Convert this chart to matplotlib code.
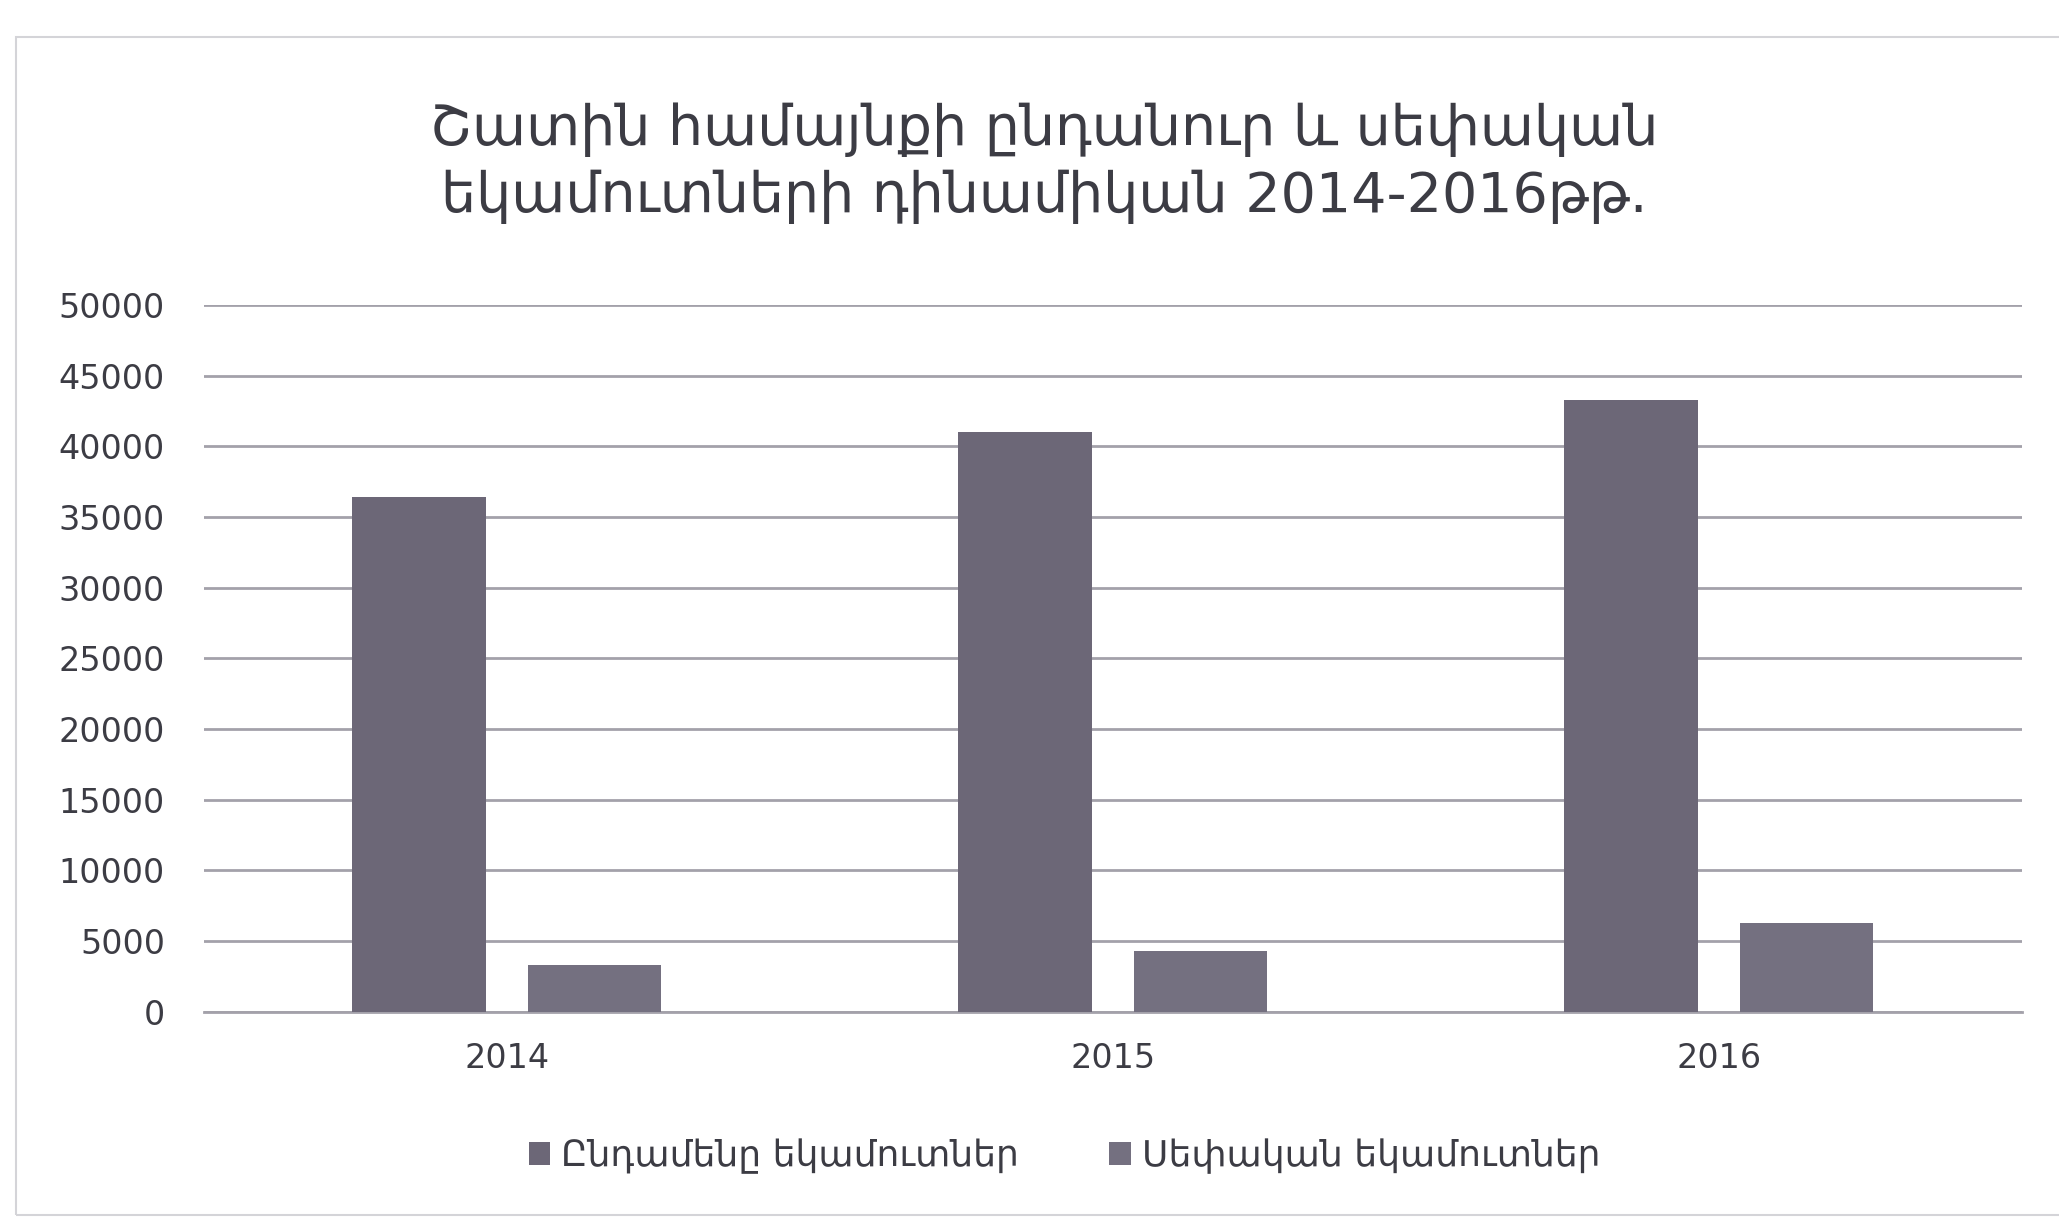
import numpy as np
import matplotlib.pyplot as plt
from matplotlib.patches import Rectangle

plt.rcParams['font.family'] = ['DejaVu Sans']

years = ['2014', '2015', '2016']
total_income = [36400, 41000, 43300]
own_income = [3300, 4300, 6300]
series_names = ['Ընդամենը եկամուտներ', 'Սեփական եկամուտներ']
title = 'Շատին համայնքի ընդանուր և սեփական\nեկամուտների դինամիկան 2014-2016թթ.'

bar_color = '#6c6777'
grid_color = '#a3a1aa'
text_color = '#3c3c44'

fig = plt.figure(figsize=(20.59, 12.25), dpi=100)
ax = fig.add_axes([0.099, 0.174, 0.883, 0.577])

x = np.arange(len(years))
w = 0.22
ax.bar(x - 0.145, total_income, w, color=bar_color, label=series_names[0], zorder=3)
ax.bar(x + 0.145, own_income, w, color='#747080', label=series_names[1], zorder=3)

ax.set_xlim(-0.5, 2.5)
ax.set_ylim(0, 50000)
ax.set_yticks(np.arange(0, 50001, 5000))
ax.set_xticks(x)
ax.set_xticklabels(years)
ax.yaxis.grid(True, color=grid_color, linewidth=2, zorder=0)
for s in ['top', 'right', 'left']:
    ax.spines[s].set_visible(False)
ax.spines['bottom'].set_color(grid_color)
ax.spines['bottom'].set_linewidth(2)
ax.tick_params(axis='both', length=0, labelsize=24, colors=text_color)
ax.tick_params(axis='y', pad=28)
ax.tick_params(axis='x', pad=22)

fig.text(0.507, 0.867, title, ha='center', va='center', fontsize=40,
         color=text_color, linespacing=1.3)

leg = fig.legend(loc='center', bbox_to_anchor=(0.517, 0.056), ncol=2, frameon=False,
                 fontsize=26, handlelength=0.6, handleheight=0.6, columnspacing=2.5,
                 handletextpad=0.3)
for t in leg.get_texts():
    t.set_color(text_color)

fig.patches.append(Rectangle((0.008, 0.008), 1.0, 0.962, transform=fig.transFigure,
                             fill=False, edgecolor='#d4d4d8', linewidth=1.5))

fig.savefig('out.png', dpi=100)
